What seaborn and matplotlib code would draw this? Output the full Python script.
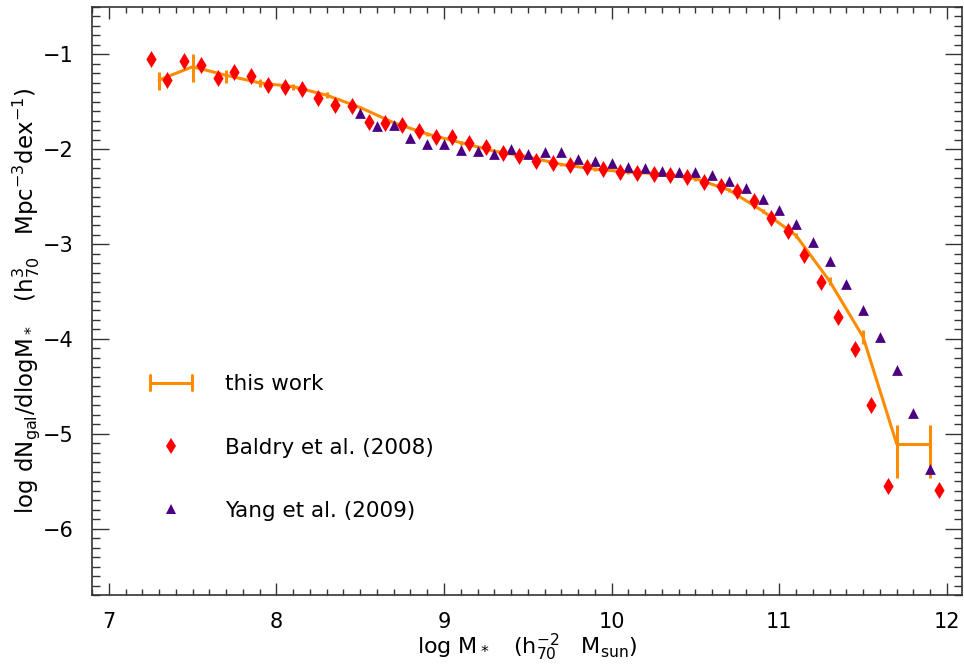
import numpy as np
import pandas as pd
import matplotlib
matplotlib.use('Agg')
import matplotlib.pyplot as plt
from matplotlib.ticker import MultipleLocator
from matplotlib.legend_handler import HandlerBase
from matplotlib.lines import Line2D
import seaborn as sns

# ---------------- data ----------------
# this work (binned stellar mass function)
tw_x = [7.3, 7.5, 7.7, 7.9, 8.1, 8.3, 8.5, 8.7, 8.9, 9.1, 9.3, 9.5, 9.7, 9.9,
        10.1, 10.3, 10.5, 10.7, 10.9, 11.1, 11.3, 11.5, 11.7]
tw_y = [-1.27, -1.13, -1.22, -1.30, -1.34, -1.43, -1.56, -1.72, -1.84, -1.93,
        -2.02, -2.08, -2.16, -2.21, -2.24, -2.26, -2.31, -2.43, -2.65, -2.91,
        -3.39, -3.98, -5.105]
tw_err_lo = [0.10, 0.16, 0.08, 0.04, 0.03, 0.03, 0.02, 0.02, 0.02, 0.02, 0.02,
             0.02, 0.02, 0.02, 0.02, 0.02, 0.02, 0.02, 0.02, 0.03, 0.04, 0.07, 0.0]
tw_err_hi = [0.08, 0.13, 0.06, 0.04, 0.03, 0.03, 0.02, 0.02, 0.02, 0.02, 0.02,
             0.02, 0.02, 0.02, 0.02, 0.02, 0.02, 0.02, 0.02, 0.03, 0.04, 0.07, 0.0]
# last (wide) bin of this work
last_bin_edges = [11.7, 11.9]
last_bin_y = -5.105
last_bin_lo = -5.47
last_bin_hi = -4.91

# Baldry et al. (2008)
baldry_x = [7.25, 7.35, 7.45, 7.55, 7.65, 7.75, 7.85, 7.95, 8.05, 8.15, 8.25,
            8.35, 8.45, 8.55, 8.65, 8.75, 8.85, 8.95, 9.05, 9.15, 9.25, 9.35,
            9.45, 9.55, 9.65, 9.75, 9.85, 9.95, 10.05, 10.15, 10.25, 10.35,
            10.45, 10.55, 10.65, 10.75, 10.85, 10.95, 11.05, 11.15, 11.25,
            11.35, 11.45, 11.55, 11.65, 11.95]
baldry_y = [-1.053, -1.266, -1.074, -1.113, -1.253, -1.182, -1.224, -1.319,
            -1.344, -1.368, -1.46, -1.537, -1.544, -1.713, -1.72, -1.744, -1.81,
            -1.87, -1.87, -1.937, -1.98, -2.035, -2.07, -2.12, -2.144, -2.17,
            -2.19, -2.21, -2.235, -2.25, -2.26, -2.275, -2.29, -2.34, -2.386,
            -2.44, -2.55, -2.72, -2.866, -3.116, -3.397, -3.77, -4.105, -4.695,
            -5.55, -5.59]

# Yang et al. (2009)
yang_x = [8.5, 8.6, 8.7, 8.8, 8.9, 9.0, 9.1, 9.2, 9.3, 9.4, 9.5, 9.6, 9.7, 9.8,
          9.9, 10.0, 10.1, 10.2, 10.3, 10.4, 10.5, 10.6, 10.7, 10.8, 10.9, 11.0,
          11.1, 11.2, 11.3, 11.4, 11.5, 11.6, 11.7, 11.8, 11.9]
yang_y = [-1.62, -1.755, -1.74, -1.88, -1.94, -1.94, -2.005, -2.02, -2.045,
          -2.0, -2.045, -2.03, -2.03, -2.105, -2.12, -2.15, -2.19, -2.20, -2.23,
          -2.24, -2.245, -2.27, -2.33, -2.41, -2.52, -2.64, -2.79, -2.975,
          -3.18, -3.42, -3.69, -3.98, -4.33, -4.78, -5.37]

labels = ['this work', 'Baldry et al. (2008)', 'Yang et al. (2009)']

ORANGE = '#FF8C00'
RED = '#FF0000'
PURPLE = '#4B0082'

# ---------------- style ----------------
sns.set_style('ticks')
plt.rcParams['font.family'] = ['DejaVu Sans']
plt.rcParams['mathtext.default'] = 'regular'
plt.rcParams['text.color'] = 'black'
plt.rcParams['axes.labelcolor'] = 'black'

fig = plt.figure(figsize=(9.64, 6.67), dpi=100)
ax = fig.add_axes([92 / 964, 1 - 595 / 667, 870 / 964, 588 / 667])

tw_df = pd.DataFrame({'x': tw_x, 'y': tw_y})
bal_df = pd.DataFrame({'x': baldry_x, 'y': baldry_y})
yang_df = pd.DataFrame({'x': yang_x, 'y': yang_y})

sns.lineplot(data=tw_df, x='x', y='y', ax=ax, color=ORANGE, lw=2.2,
             sort=False, zorder=2)
ax.errorbar(tw_x, tw_y, yerr=[tw_err_lo, tw_err_hi], fmt='none',
            ecolor=ORANGE, elinewidth=2.2, capsize=0, zorder=2)
ax.hlines(last_bin_y, last_bin_edges[0], last_bin_edges[1], color=ORANGE,
          lw=2.2, zorder=2)
ax.vlines(last_bin_edges, last_bin_lo, last_bin_hi, color=ORANGE, lw=2.2,
          zorder=2)

sns.scatterplot(data=yang_df, x='x', y='y', ax=ax, marker='^', s=60,
                color=PURPLE, linewidth=0, zorder=3)
sns.scatterplot(data=bal_df, x='x', y='y', ax=ax, marker='d', s=75,
                color=RED, linewidth=0, zorder=4)

ax.set_xlim(6.9, 12.09)
ax.set_ylim(-6.7, -0.5)

ax.xaxis.set_major_locator(MultipleLocator(1))
ax.xaxis.set_minor_locator(MultipleLocator(0.1))
ax.yaxis.set_major_locator(MultipleLocator(1))
ax.yaxis.set_minor_locator(MultipleLocator(0.1))
ax.tick_params(axis='both', which='both', direction='in', top=True,
               right=True, colors='#333333', labelcolor='black', width=1)
ax.tick_params(axis='x', which='major', length=8.3, pad=12, labelsize=15)
ax.tick_params(axis='x', which='minor', length=4)
ax.tick_params(axis='y', which='major', length=12.2, pad=13, labelsize=15)
ax.tick_params(axis='y', which='minor', length=5.8)
for sp in ax.spines.values():
    sp.set_color('#333333')
    sp.set_linewidth(1.2)

ax.set_xlabel(r'log M$_*$   (h$_{70}^{-2}$   M$_{sun}$)', fontsize=16)
ax.set_ylabel(r'log dN$_{gal}$/dlogM$_*$   (h$_{70}^{3}$   Mpc$^{-3}$dex$^{-1}$)',
              fontsize=16.5)
ax.xaxis.set_label_coords(0.5, -0.062)
ax.yaxis.set_label_coords(-0.058, 0.5)


class HandlerCapLine(HandlerBase):
    def create_artists(self, legend, orig_handle, xdescent, ydescent, width,
                       height, fontsize, trans):
        y = (height - ydescent) / 2
        x0 = -xdescent
        x1 = -xdescent + width
        c = orig_handle.get_color()
        lw = orig_handle.get_linewidth()
        h = 5.4
        arts = [Line2D([x0, x1], [y, y], color=c, lw=lw),
                Line2D([x0, x0], [y - h, y + h], color=c, lw=lw),
                Line2D([x1, x1], [y - h, y + h], color=c, lw=lw)]
        for a in arts:
            a.set_transform(trans)
        return arts


h_tw = Line2D([], [], color=ORANGE, lw=2.2)
h_bal = Line2D([], [], color=RED, marker='d', ls='none', markersize=8.5,
               markeredgewidth=0)
h_yang = Line2D([], [], color=PURPLE, marker='^', ls='none', markersize=6.5,
                markeredgewidth=0)
ax.legend([h_tw, h_bal, h_yang], labels, handler_map={h_tw: HandlerCapLine()},
          loc='upper left', bbox_to_anchor=(0.0667, 0.375), frameon=False,
          fontsize=15.5, labelcolor='black', handlelength=1.95,
          handletextpad=1.55, labelspacing=2.0, borderaxespad=0, borderpad=0)

fig.savefig('out.png', dpi=100)
